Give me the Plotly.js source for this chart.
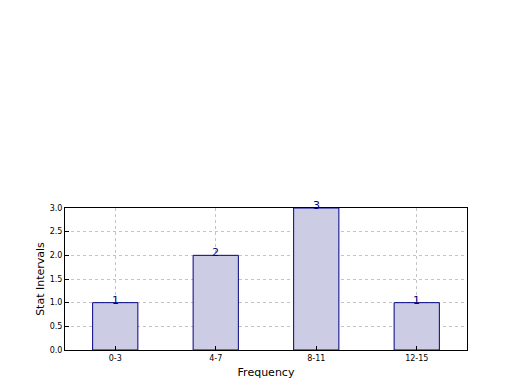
<!DOCTYPE html>
<html>
<head>
<meta charset="utf-8">
<script src="https://cdn.plot.ly/plotly-3.0.1.min.js"></script>
<style>html,body{margin:0;padding:0;background:#fff;}#chart{width:520px;height:390px;}</style>
</head>
<body>
<div id="chart"></div>
<script>
var categories = ["0-3", "4-7", "8-11", "12-15"];
var values = [1, 2, 3, 1];
var yTicks = [0, 0.5, 1, 1.5, 2, 2.5, 3];
var yTickLabels = ["0.0", "0.5", "1.0", "1.5", "2.0", "2.5", "3.0"];

var xIdx = categories.map(function(c, i){ return i; });

var trace = {
  type: "bar",
  x: xIdx,
  y: values,
  width: 0.45,
  marker: {color: "rgb(204,204,229)", line: {color: "#000080", width: 1}},
  hoverinfo: "none"
};

var annotations = values.map(function(v, i){
  return {x: i, y: v, text: String(v), showarrow: false, yanchor: "bottom", xanchor: "center",
          yshift: -6, font: {family: "DejaVu Sans", size: 11, color: "#000080"}};
});

var layout = {
  width: 520, height: 390,
  margin: {l: 65, r: 53, t: 208, b: 40},
  paper_bgcolor: "#fff", plot_bgcolor: "#fff",
  showlegend: false,
  font: {family: "DejaVu Sans", color: "#000"},
  xaxis: {
    range: [-0.5, 3.5], tickvals: xIdx, ticktext: categories,
    tickfont: {size: 8}, showgrid: true, gridcolor: "#c4c4c4", griddash: "dot", gridwidth: 1,
    ticks: "inside", ticklen: 4, tickcolor: "#000",
    showline: true, linecolor: "#000", linewidth: 1, mirror: true, zeroline: false,
    title: {text: "Frequency", font: {size: 11}, standoff: 6}
  },
  yaxis: {
    range: [0, 3], tickvals: yTicks, ticktext: yTickLabels,
    tickfont: {size: 8}, showgrid: true, gridcolor: "#c4c4c4", griddash: "dot", gridwidth: 1,
    ticks: "inside", ticklen: 4, tickcolor: "#000",
    showline: true, linecolor: "#000", linewidth: 1, mirror: true, zeroline: false,
    title: {text: "Stat Intervals", font: {size: 11}, standoff: 2}
  },
  annotations: annotations
};

Plotly.newPlot("chart", [trace], layout, {displayModeBar: false, staticPlot: true});
</script>
</body>
</html>
